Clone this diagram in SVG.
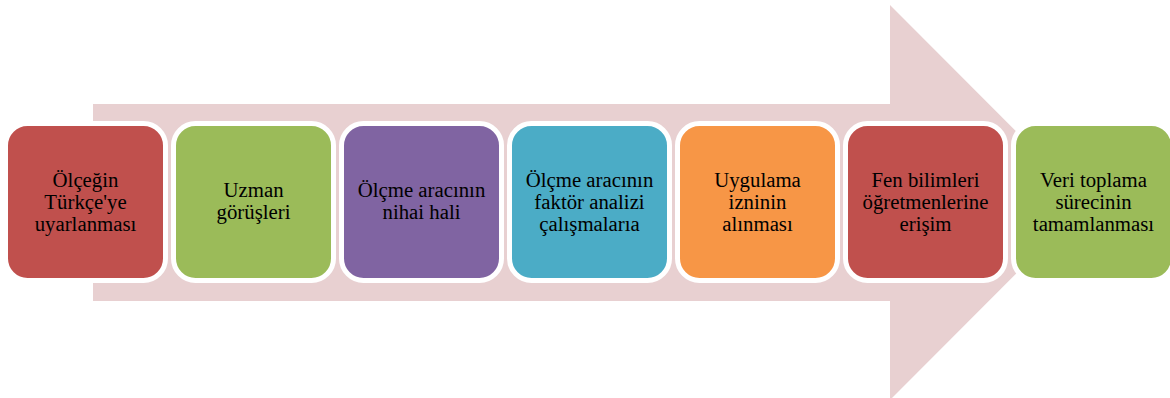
<svg xmlns="http://www.w3.org/2000/svg" width="1170" height="398" viewBox="0 0 1170 398">
<style>
.box{stroke:#ffffff;stroke-width:5}
.t{font-family:"Liberation Serif","Times New Roman",serif;font-size:20.8px;fill:#000;text-anchor:middle}
</style>
<rect width="1170" height="398" fill="#ffffff"/>
<g id="arrow">
<polygon points="93,104 890,104 890,5 1087,202.5 890,400 890,301 93,301" fill="#E8D0D1"/>
</g>
<g id="connectors"></g>
<g id="n1"><rect class="box" x="5.5" y="123.5" width="160" height="157" rx="22" fill="#C0504D"/>
<text class="t"><tspan x="85.5" y="187">Ölçeğin</tspan><tspan x="85.5" y="209">Türkçe'ye</tspan><tspan x="85.5" y="231">uyarlanması</tspan></text></g>
<g id="n2"><rect class="box" x="173.5" y="123.5" width="160" height="157" rx="22" fill="#9BBB59"/>
<text class="t"><tspan x="253.5" y="197">Uzman</tspan><tspan x="253.5" y="219">görüşleri</tspan></text></g>
<g id="n3"><rect class="box" x="341.5" y="123.5" width="160" height="157" rx="22" fill="#8064A2"/>
<text class="t"><tspan x="421.5" y="197">Ölçme aracının</tspan><tspan x="421.5" y="219">nihai hali</tspan></text></g>
<g id="n4"><rect class="box" x="509.5" y="123.5" width="160" height="157" rx="22" fill="#4BACC6"/>
<text class="t"><tspan x="589.5" y="187">Ölçme aracının</tspan><tspan x="589.5" y="209">faktör analizi</tspan><tspan x="589.5" y="231">çalışmalarıa</tspan></text></g>
<g id="n5"><rect class="box" x="677.5" y="123.5" width="160" height="157" rx="22" fill="#F79646"/>
<text class="t"><tspan x="757.5" y="187">Uygulama</tspan><tspan x="757.5" y="209">izninin</tspan><tspan x="757.5" y="231">alınması</tspan></text></g>
<g id="n6"><rect class="box" x="845.5" y="123.5" width="160" height="157" rx="22" fill="#C0504D"/>
<text class="t"><tspan x="925.5" y="187">Fen bilimleri</tspan><tspan x="925.5" y="209">öğretmenlerine</tspan><tspan x="925.5" y="231">erişim</tspan></text></g>
<g id="n7"><rect class="box" x="1013.5" y="123.5" width="160" height="157" rx="22" fill="#9BBB59"/>
<text class="t"><tspan x="1093.5" y="187">Veri toplama</tspan><tspan x="1093.5" y="209">sürecinin</tspan><tspan x="1093.5" y="231">tamamlanması</tspan></text></g>
</svg>
